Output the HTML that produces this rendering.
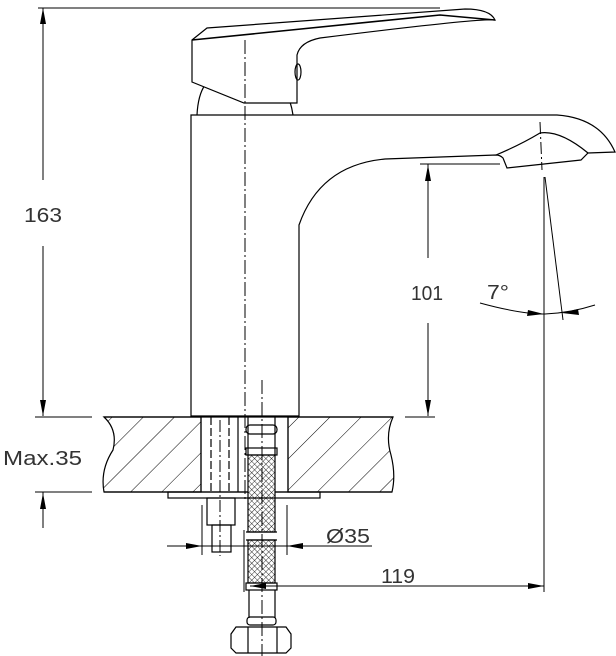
<!DOCTYPE html>
<html><head><style>html,body{margin:0;padding:0;background:#fff}svg{display:block}</style></head>
<body>
<svg width="616" height="656" viewBox="0 0 616 656" xmlns="http://www.w3.org/2000/svg" font-family="Liberation Sans, sans-serif">
<defs>
<pattern id="hatch" width="22" height="22" patternUnits="userSpaceOnUse" patternTransform="rotate(45)">
<line x1="0" y1="0" x2="0" y2="22" stroke="#000" stroke-width="1"/>
</pattern>
<pattern id="mesh" width="4" height="4" patternUnits="userSpaceOnUse" patternTransform="rotate(45)">
<rect width="4" height="4" fill="#fff"/>
<line x1="0" y1="0" x2="4" y2="0" stroke="#000" stroke-width="0.8"/>
<line x1="0" y1="0" x2="0" y2="4" stroke="#000" stroke-width="0.8"/>
</pattern>
</defs>
<g fill="none" stroke="#000" stroke-width="1.2">
<path d="M104,417 L201,417 L201,492 L104,492 Q100,470 113,450 Q118,430 104,417 Z" fill="url(#hatch)"/>
<path d="M288,417 L393,417 Q385,435 391,455 Q396,475 392,492 L288,492 Z" fill="url(#hatch)"/>
<line x1="104" y1="417" x2="393" y2="417"/>
<line x1="104" y1="492" x2="392" y2="492"/>
<line x1="201" y1="417" x2="201" y2="492"/>
<line x1="288" y1="417" x2="288" y2="492"/>
<line x1="238" y1="417" x2="238" y2="492"/>
<rect x="168" y="492" width="152" height="6"/>
<line x1="211" y1="417" x2="211" y2="492" stroke-dasharray="8,3"/>
<line x1="229" y1="417" x2="229" y2="492" stroke-dasharray="8,3"/>
<rect x="207" y="498" width="28" height="27"/>
<rect x="212" y="525" width="19" height="27"/>
<line x1="220" y1="380" x2="220" y2="556" stroke-dasharray="12,3,2,3" stroke-width="1"/>
<path d="M191,416 L191,115 L557,115 Q600,118 615,152 L588,153 L581,160 L507,168 L503,158 Q500,155 496,155 L385,159 Q320,165 299,225 L299,416 Z" fill="#fff"/>
<path d="M496,155 Q520,145 540,133 Q560,130 588,153"/>
<line x1="540" y1="122" x2="542" y2="170" stroke-dasharray="12,3,2,3" stroke-width="1"/>
<path d="M197,115 Q198,95 205,85"/>
<path d="M293,115 Q292,108 290,102"/>
<path d="M192,40 L207,28 L465,9 Q490,9 495,20 Q480,18 320,38 Q300,42 297,55 L297,103 L244,103 L192,82 Z" fill="#fff"/>
<path d="M192,40 L440,15 L495,20" stroke-width="1.6"/>
<ellipse cx="298" cy="72" rx="3" ry="8"/>
<rect x="248" y="455" width="27" height="77" fill="url(#mesh)"/>
<rect x="248" y="540" width="27" height="43" fill="url(#mesh)"/>
<line x1="248" y1="417" x2="248" y2="455"/>
<line x1="275" y1="417" x2="275" y2="455"/>
<rect x="246" y="425" width="31" height="9" rx="4"/>
<rect x="246" y="448" width="31" height="7"/>
<line x1="246" y1="532" x2="277" y2="532"/>
<line x1="246" y1="540" x2="277" y2="540"/>
<line x1="248" y1="498" x2="275" y2="498"/>
<rect x="246" y="583" width="31" height="7"/>
<line x1="249" y1="590" x2="249" y2="618"/>
<line x1="275" y1="590" x2="275" y2="618"/>
<rect x="247" y="617" width="29" height="8" rx="3"/>
<path d="M236,627 L286,627 L291,634 L291,648 L286,653 L236,653 L231,648 L231,634 Z"/>
<line x1="248" y1="627" x2="248" y2="653"/>
<line x1="277" y1="627" x2="277" y2="653"/>
<line x1="245" y1="40" x2="245" y2="500" stroke-dasharray="14,3,2,3" stroke-width="1"/>
<line x1="262" y1="380" x2="262" y2="656" stroke-dasharray="14,3,2,3" stroke-width="1"/>
</g>
<g stroke="#000" stroke-width="1" fill="none">
<line x1="38" y1="8" x2="440" y2="8"/>
<line x1="43" y1="8" x2="43" y2="180"/>
<line x1="43" y1="246" x2="43" y2="416"/>
<line x1="35" y1="417" x2="92" y2="417"/>
<line x1="35" y1="492" x2="92" y2="492"/>
<line x1="43" y1="492" x2="43" y2="528"/>
<line x1="420" y1="164" x2="500" y2="164"/>
<line x1="405" y1="417" x2="435" y2="417"/>
<line x1="428" y1="164" x2="428" y2="258"/>
<line x1="428" y1="323" x2="428" y2="416"/>
<line x1="544" y1="177" x2="544" y2="592"/>
<line x1="545" y1="177" x2="563" y2="320"/>
<path d="M480,303 Q520,314 545,314 Q570,313 595,305"/>
<line x1="202" y1="505" x2="202" y2="555"/>
<line x1="287" y1="505" x2="287" y2="555"/>
<line x1="167" y1="546" x2="372" y2="546"/>
<line x1="244" y1="530" x2="244" y2="592"/>
<line x1="250" y1="586" x2="544" y2="586"/>
</g>
<g fill="#000">
<polygon points="43,8 40,24 46,24"/>
<polygon points="43,416 40,400 46,400"/>
<polygon points="43,493 40,509 46,509"/>
<polygon points="428,165 425,181 431,181"/>
<polygon points="428,416 425,400 431,400"/>
<polygon points="202,546 186,543 186,549"/>
<polygon points="287,546 303,543 303,549"/>
<polygon points="250,586 266,583 266,589"/>
<polygon points="544,586 528,583 528,589"/>
<polygon points="544,314 528,310 527,316"/>
<polygon points="562,313 578,309 579,315"/>
</g>
<g font-size="20" fill="#333">
<text x="24" y="222" textLength="38" lengthAdjust="spacingAndGlyphs">163</text>
<text x="3" y="465" textLength="79" lengthAdjust="spacingAndGlyphs">Max.35</text>
<text x="411" y="300" textLength="32" lengthAdjust="spacingAndGlyphs">101</text>
<text x="487" y="299" textLength="22" lengthAdjust="spacingAndGlyphs">7°</text>
<text x="326" y="543" textLength="44" lengthAdjust="spacingAndGlyphs">Ø35</text>
<text x="381" y="583" textLength="34" lengthAdjust="spacingAndGlyphs">119</text>
</g>
</svg>
</body></html>
